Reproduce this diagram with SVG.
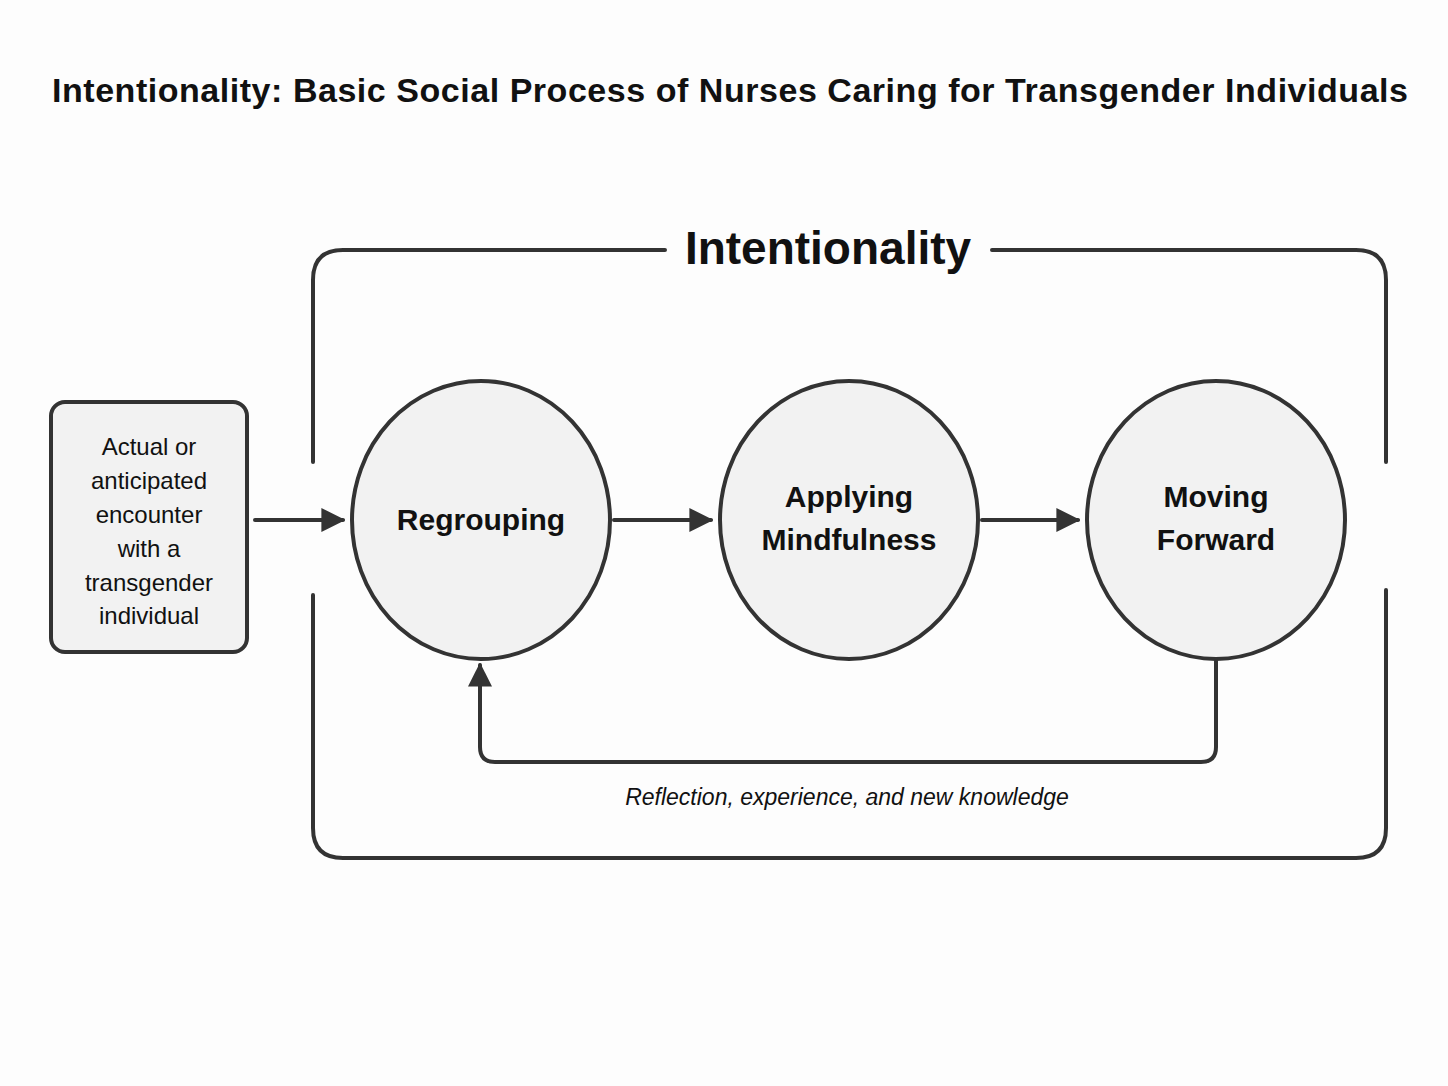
<svg xmlns="http://www.w3.org/2000/svg" width="1448" height="1086" viewBox="0 0 1448 1086">
<style>
.ln{fill:none;stroke:#333;stroke-width:4;stroke-linecap:round;stroke-linejoin:round}
.nd{fill:#f2f2f2;stroke:#333;stroke-width:4}
.t{font-family:"Liberation Sans",Arial,sans-serif;fill:#111;text-anchor:middle}
</style>
<defs>
<marker id="ah" viewBox="0 0 10 10" refX="9" refY="5" markerWidth="6" markerHeight="6" markerUnits="strokeWidth" orient="auto">
<path d="M0,0 L10,5 L0,10 z" fill="#333"/>
</marker>
</defs>
<rect width="1448" height="1086" fill="#fdfdfd"/>
<text class="t" x="730" y="102" font-size="34" font-weight="bold" textLength="1356" lengthAdjust="spacing">Intentionality: Basic Social Process of Nurses Caring for Transgender Individuals</text>
<g id="frame">
<path class="ln" d="M665,250 H343 Q313,250 313,280 V462"/>
<path class="ln" d="M992,250 H1356 Q1386,250 1386,280 V462"/>
<path class="ln" d="M313,595 V828 Q313,858 343,858 H1356 Q1386,858 1386,828 V590"/>
<text class="t" x="828" y="264" font-size="46" font-weight="bold">Intentionality</text>
</g>
<g id="encounter">
<rect class="nd" x="51" y="402" width="196" height="250" rx="14"/>
<text class="t" font-size="24"><tspan x="149" y="455">Actual or</tspan><tspan x="149" y="489">anticipated</tspan><tspan x="149" y="523">encounter</tspan><tspan x="149" y="557">with a</tspan><tspan x="149" y="591">transgender</tspan><tspan x="149" y="624">individual</tspan></text>
</g>
<g id="regrouping">
<ellipse class="nd" cx="481" cy="520" rx="129" ry="139"/>
<text class="t" x="481" y="530" font-size="30" font-weight="bold">Regrouping</text>
</g>
<g id="applying">
<ellipse class="nd" cx="849" cy="520" rx="129" ry="139"/>
<text class="t" font-size="30" font-weight="bold"><tspan x="849" y="507">Applying</tspan><tspan x="849" y="550">Mindfulness</tspan></text>
</g>
<g id="moving">
<ellipse class="nd" cx="1216" cy="520" rx="129" ry="139"/>
<text class="t" font-size="30" font-weight="bold"><tspan x="1216" y="507">Moving</tspan><tspan x="1216" y="550">Forward</tspan></text>
</g>
<g id="connectors">
<line class="ln" x1="255" y1="520" x2="343" y2="520" marker-end="url(#ah)"/>
<line class="ln" x1="614" y1="520" x2="711" y2="520" marker-end="url(#ah)"/>
<line class="ln" x1="982" y1="520" x2="1078" y2="520" marker-end="url(#ah)"/>
<path class="ln" d="M1216,661 V747 Q1216,762 1201,762 H495 Q480,762 480,747 V665" marker-end="url(#ah)"/>
<text class="t" x="847" y="805" font-size="23" font-style="italic">Reflection, experience, and new knowledge</text>
</g>
</svg>
